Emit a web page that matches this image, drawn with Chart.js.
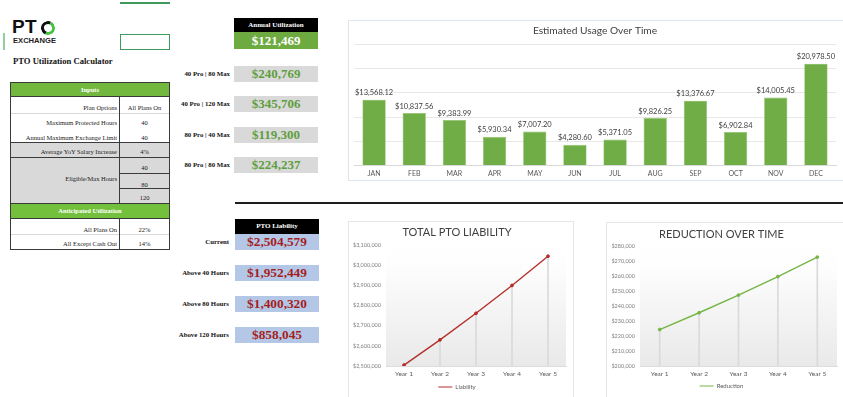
<!DOCTYPE html>
<html>
<head>
<meta charset="utf-8">
<script src="https://cdn.jsdelivr.net/npm/chart.js@4.4.1/dist/chart.umd.min.js"></script>
<style>
  html,body{margin:0;padding:0;background:#fff;}
  #root{position:relative;width:843px;height:397px;overflow:hidden;background:#fff;}
  .a{position:absolute;box-sizing:border-box;}
  .serif{font-family:"Liberation Serif","DejaVu Serif",serif;}
  .t{font-family:"Liberation Serif",serif;font-size:6.5px;color:#222;white-space:nowrap;}
  .hdr{background:#000;color:#fff;font-family:"Liberation Serif",serif;font-weight:bold;font-size:7px;text-align:center;}
  .lbl{font-family:"Liberation Serif",serif;font-weight:bold;font-size:6.8px;color:#111;text-align:right;white-space:nowrap;}
  .val{font-family:"Liberation Serif",serif;font-weight:bold;font-size:13px;text-align:center;}
  .box{border:1px solid #e3e6ea;}
  canvas{position:absolute;}
</style>
</head>
<body>
<div id="root">
  <!-- top decorations -->
  <div class="a" style="left:120px;top:2px;width:50px;height:2px;background:#3f9a5e;"></div>
  <div class="a" style="left:3px;top:33px;width:2px;height:17px;background:#8fd0a0;"></div>
  <div class="a" style="left:120px;top:34px;width:50px;height:16px;border:1.5px solid #3f9a5e;"></div>

  <!-- logo -->
  <div class="a" style="left:12px;top:17px;font:bold 19px 'Liberation Sans',sans-serif;color:#111;letter-spacing:0.3px;line-height:20px;">PT</div>
  <div class="a" style="left:41px;top:21px;width:14px;height:14px;border-radius:50%;border:3px solid #43c23f;border-left-color:#111;border-top-color:#111;transform:rotate(-20deg);"></div>
  <div class="a" style="left:13px;top:37px;font:bold 7.6px 'Liberation Sans',sans-serif;color:#222;line-height:8px;">EXCHANGE</div>

  <div class="a serif" style="left:13px;top:55px;font-weight:bold;font-size:8.6px;color:#111;line-height:12px;white-space:nowrap;">PTO Utilization Calculator</div>

  <!-- inputs table -->
  <div class="a" style="left:10px;top:82px;width:160px;height:168px;border:1.5px solid #3a3a3a;"></div>
  <div class="a hdr" style="left:11px;top:83px;width:158px;height:14px;line-height:14px;background:#72b83f;font-size:6.5px;">Inputs</div>
  <div class="a" style="left:11px;top:96px;width:158px;height:1px;background:#3a3a3a;"></div>
  <div class="a" style="left:11px;top:113px;width:158px;height:1px;background:#d8d8d8;"></div>
  <div class="a" style="left:11px;top:142px;width:158px;height:61px;background:#d9d9d9;"></div>
  <div class="a" style="left:11px;top:142px;width:158px;height:1px;background:#3a3a3a;"></div>
  <div class="a" style="left:11px;top:157px;width:158px;height:1px;background:#3a3a3a;"></div>
  <div class="a" style="left:119px;top:173px;width:50px;height:1px;background:#3a3a3a;"></div>
  <div class="a" style="left:119px;top:188px;width:50px;height:1px;background:#3a3a3a;"></div>
  <div class="a" style="left:11px;top:203px;width:158px;height:1px;background:#3a3a3a;"></div>
  <div class="a hdr" style="left:11px;top:204px;width:158px;height:14px;line-height:14px;background:#72c03c;font-size:6.5px;">Anticipated Utilization</div>
  <div class="a" style="left:11px;top:218px;width:158px;height:1px;background:#3a3a3a;"></div>
  <div class="a" style="left:11px;top:234px;width:158px;height:1px;background:#d8d8d8;"></div>
  <div class="a" style="left:118.5px;top:97px;width:1.5px;height:106px;background:#3a3a3a;"></div>
  <div class="a" style="left:118.5px;top:219px;width:1.5px;height:30px;background:#3a3a3a;"></div>
  <div id="tableText"></div>

  <!-- middle column -->
  <div class="a hdr" style="left:234px;top:18px;width:84px;height:14px;line-height:14px;">Annual Utilization</div>
  <div class="a val" style="left:234px;top:32px;width:84px;height:17px;line-height:17px;background:#6dab40;color:#fff;">$121,469</div>
  <div id="scenarios"></div>

  <div class="a" style="left:235px;top:202px;width:608px;height:2px;background:#1e1e1e;"></div>

  <div class="a hdr" style="left:235px;top:219px;width:84px;height:15px;line-height:15px;">PTO Liability</div>
  <div id="liab"></div>

  <!-- chart frames -->
  <div class="a box" style="left:348px;top:20px;width:500px;height:161px;border-color:#dfe5ee;"></div>
  <div class="a box" style="left:348px;top:221px;width:226px;height:180px;"></div>
  <div class="a box" style="left:606px;top:222px;width:240px;height:180px;"></div>

  <canvas id="barChart" width="495" height="161" style="left:348px;top:20px;"></canvas>
  <canvas id="liabChart" width="225" height="179" style="left:348px;top:221px;"></canvas>
  <canvas id="redChart" width="237" height="177" style="left:606px;top:222px;"></canvas>
</div>

<script>
// ---------- data ----------
const months = ['JAN','FEB','MAR','APR','MAY','JUN','JUL','AUG','SEP','OCT','NOV','DEC'];
const usage = [13568.12, 10837.56, 9383.99, 5930.34, 7007.20, 4280.60, 5371.05, 9826.25, 13376.67, 6902.84, 14005.45, 20978.50];

const years = ['Year 1','Year 2','Year 3','Year 4','Year 5'];
const liability = [2504579, 2629800, 2761300, 2899400, 3044300];
const reduction = [224300, 235500, 247300, 259600, 272600];

const scenarioLabels = ['40 Pro | 80 Max','40 Pro | 120 Max','80 Pro | 40 Max','80 Pro | 80 Max'];
const scenarioValues = ['$240,769','$345,706','$119,300','$224,237'];
const liabLabels = ['Current','Above 40 Hours','Above 80 Hours','Above 120 Hours'];
const liabValues = ['$2,504,579','$1,952,449','$1,400,320','$858,045'];

const inputRows = [
  ['Plan Options','All Plans On',107.5],
  ['Maximum Protected Hours','40',122.5],
  ['Annual Maximum Exchange Limit','40',137],
  ['Average YoY Salary Increase','4%',151],
  ['Eligible/Max Hours','',178],
  ['','40',167.5],
  ['','80',184],
  ['','120',197],
  ['All Plans On','22%',229.5],
  ['All Except Cash Out','14%',243]
];

// ---------- DOM text ----------
(function(){
  const tt = document.getElementById('tableText');
  inputRows.forEach(r=>{
    if(r[0]){
      const d=document.createElement('div');
      d.className='a t'; d.style.cssText='left:11px;width:106px;text-align:right;height:9px;line-height:9px;top:'+(r[2]-4.5)+'px;';
      d.textContent=r[0]; tt.appendChild(d);
    }
    if(r[1]){
      const d=document.createElement('div');
      d.className='a t'; d.style.cssText='left:120px;width:49px;text-align:center;height:9px;line-height:9px;top:'+(r[2]-4.5)+'px;';
      d.textContent=r[1]; tt.appendChild(d);
    }
  });
  const sc=document.getElementById('scenarios');
  const sTops=[66,96,127,157];
  scenarioLabels.forEach((l,i)=>{
    const a=document.createElement('div'); a.className='a lbl';
    a.style.cssText='left:150px;width:80px;top:'+sTops[i]+'px;height:16px;line-height:16px;'; a.textContent=l; sc.appendChild(a);
    const b=document.createElement('div'); b.className='a val';
    b.style.cssText='left:234px;width:84px;top:'+sTops[i]+'px;height:16px;line-height:16px;background:#d9d9d9;color:#5f9e3e;'; b.textContent=scenarioValues[i]; sc.appendChild(b);
  });
  const lb=document.getElementById('liab');
  const lTops=[234,265,296,327];
  liabLabels.forEach((l,i)=>{
    const a=document.createElement('div'); a.className='a lbl';
    a.style.cssText='left:150px;width:79px;top:'+lTops[i]+'px;height:16px;line-height:16px;'; a.textContent=l; lb.appendChild(a);
    const b=document.createElement('div'); b.className='a val';
    b.style.cssText='left:235px;width:84px;top:'+lTops[i]+'px;height:16px;line-height:16px;background:#b4c7e7;color:#a41e1e;font-size:13.3px;'; b.textContent=liabValues[i]; lb.appendChild(b);
  });
})();

// ---------- plugins ----------
const barLabels = {
  id:'barLabels',
  afterDatasetsDraw(chart){
    const ctx=chart.ctx; const meta=chart.getDatasetMeta(0);
    ctx.save();
    ctx.font='7.5px Lato, "Liberation Sans", sans-serif';
    ctx.fillStyle='#404040'; ctx.textAlign='center'; ctx.textBaseline='bottom';
    meta.data.forEach((el,i)=>{
      const v=chart.data.datasets[0].data[i];
      ctx.fillText('$'+v.toLocaleString('en-US',{minimumFractionDigits:2,maximumFractionDigits:2}), el.x, el.y-3);
    });
    ctx.restore();
  }
};
const plotGradient = {
  id:'plotGradient',
  beforeDatasetsDraw(chart){
    const {ctx, chartArea:a}=chart;
    const g=ctx.createLinearGradient(0,a.top,0,a.bottom);
    g.addColorStop(0,'#ffffff'); g.addColorStop(0.18,'#fdfdfd'); g.addColorStop(1,'#e9e9e9');
    ctx.save(); ctx.fillStyle=g; ctx.fillRect(a.left,a.top,a.right-a.left,a.bottom-a.top); ctx.restore();
  }
};

Chart.defaults.font.family = 'Lato, "Liberation Sans", sans-serif';
Chart.defaults.animation = false;

// ---------- bar chart ----------
new Chart(document.getElementById('barChart'), {
  type:'bar',
  data:{labels:months, datasets:[{data:usage, backgroundColor:'#70ad47', borderColor:'#8cc466', borderWidth:0.6, categoryPercentage:0.58, barPercentage:1}]},
  options:{
    responsive:false, devicePixelRatio:1,
    layout:{padding:{left:6,right:7,top:0,bottom:0}},
    plugins:{legend:{display:false}, tooltip:{enabled:false},
      title:{display:true,text:'Estimated Usage Over Time',color:'#404040',font:{size:10.2,weight:'normal'},padding:{top:5,bottom:7}}},
    scales:{
      x:{grid:{display:false,drawTicks:false}, border:{color:'#d9d9d9'}, ticks:{color:'#595959',font:{size:7},padding:3.5}},
      y:{min:0,max:25000,ticks:{display:false,stepSize:5000},grid:{color:'#e8e8e8',drawTicks:false},border:{display:false}}
    }
  },
  plugins:[barLabels]
});

// ---------- line charts ----------
function lineChart(id, labels, values, color, name, min, max, step, title, axisW, padR, tPad, legPad){
  new Chart(document.getElementById(id), {
    type:'line',
    data:{labels, datasets:[
      {type:'line', label:name, data:values, borderColor:color, backgroundColor:color, borderWidth:1.4, pointRadius:1.4, pointBackgroundColor:color, pointBorderColor:color, pointBorderWidth:1, tension:0, order:1},
      {type:'bar', label:'_drop', data:values, backgroundColor:'#dadada', barThickness:1, order:2}
    ]},
    options:{
      responsive:false, devicePixelRatio:1,
      layout:{padding:{left:0,right:padR,top:0,bottom:0}},
      plugins:{
        tooltip:{enabled:false},
        title:{display:true,text:title,color:'#404040',font:{size:11,weight:'normal'},padding:tPad},
        legend:{position:'bottom', labels:{filter:(it)=>it.text!=='_drop', usePointStyle:true, pointStyle:'line', pointStyleWidth:14, boxHeight:6, color:'#595959', font:{size:6}, padding:legPad}}
      },
      scales:{
        x:{offset:true, grid:{display:false, drawTicks:false}, border:{color:'#dcdcdc'}, ticks:{color:'#595959',font:{size:6.5},padding:4.1}},
        y:{min, max, ticks:{stepSize:step, color:'#808080', font:{size:5.5}, padding:5, callback:(v)=>'$'+v.toLocaleString('en-US')},
           grid:{display:false, drawTicks:false}, border:{display:false},
           afterFit:(s)=>{s.width=axisW;}}
      }
    },
    plugins:[plotGradient]
  });
}
lineChart('liabChart', years, liability, '#b3302a', 'Liability', 2500000, 3100000, 100000, 'TOTAL PTO LIABILITY', 38, 7, {top:4.4,bottom:6.4}, 2);
lineChart('redChart', years, reduction, '#76b545', 'Reduction', 200000, 280000, 10000, 'REDUCTION OVER TIME', 34, 6, {top:6,bottom:4.8}, 1);
</script>
</body>
</html>
